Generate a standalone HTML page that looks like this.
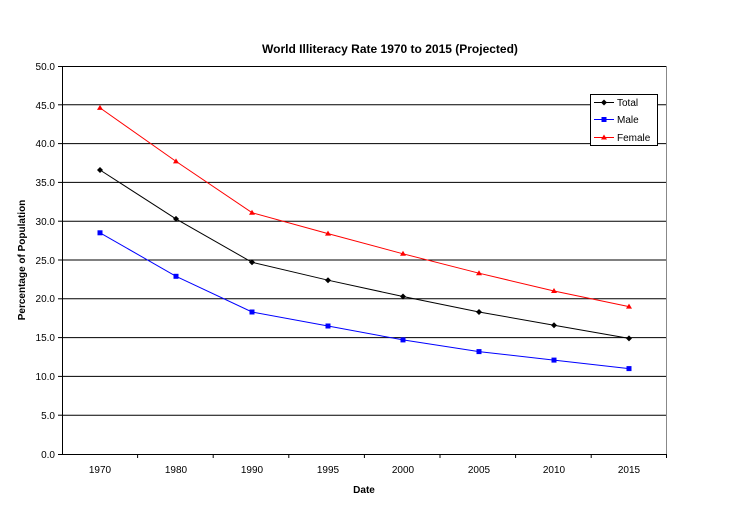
<!DOCTYPE html>
<html><head><meta charset="utf-8"><style>body{margin:0;background:#fff}svg{display:block;font-family:"Liberation Sans",Arial,sans-serif}</style></head>
<body>
<svg width="752" height="512" viewBox="0 0 752 512" xmlns="http://www.w3.org/2000/svg">
<rect width="752" height="512" fill="#fff"/>
<text x="390" y="53" font-size="12" font-weight="bold" text-anchor="middle">World Illiteracy Rate 1970 to 2015 (Projected)</text>
<g stroke="#000" stroke-width="1">
<line x1="62" y1="66.5" x2="667" y2="66.5"/><line x1="62" y1="104.8" x2="667" y2="104.8"/><line x1="62" y1="143.6" x2="667" y2="143.6"/><line x1="62" y1="182.4" x2="667" y2="182.4"/><line x1="62" y1="221.2" x2="667" y2="221.2"/><line x1="62" y1="260" x2="667" y2="260"/><line x1="62" y1="298.8" x2="667" y2="298.8"/><line x1="62" y1="337.6" x2="667" y2="337.6"/><line x1="62" y1="376.4" x2="667" y2="376.4"/><line x1="62" y1="415.2" x2="667" y2="415.2"/>
<line x1="62.5" y1="66" x2="62.5" y2="454"/><line x1="62" y1="454.5" x2="667" y2="454.5"/>
<line x1="666.5" y1="66" x2="666.5" y2="454" stroke="#888"/>
<g>
<line x1="58" y1="66.5" x2="62" y2="66.5"/><line x1="58" y1="104.8" x2="62" y2="104.8"/><line x1="58" y1="143.6" x2="62" y2="143.6"/><line x1="58" y1="182.4" x2="62" y2="182.4"/><line x1="58" y1="221.2" x2="62" y2="221.2"/><line x1="58" y1="260" x2="62" y2="260"/><line x1="58" y1="298.8" x2="62" y2="298.8"/><line x1="58" y1="337.6" x2="62" y2="337.6"/><line x1="58" y1="376.4" x2="62" y2="376.4"/><line x1="58" y1="415.2" x2="62" y2="415.2"/><line x1="58" y1="454.5" x2="62" y2="454.5"/>
<line x1="137.6" y1="454" x2="137.6" y2="458"/><line x1="213.2" y1="454" x2="213.2" y2="458"/><line x1="288.8" y1="454" x2="288.8" y2="458"/><line x1="364.4" y1="454" x2="364.4" y2="458"/><line x1="440" y1="454" x2="440" y2="458"/><line x1="515.6" y1="454" x2="515.6" y2="458"/><line x1="591.2" y1="454" x2="591.2" y2="458"/><line x1="666.5" y1="454" x2="666.5" y2="458"/>
</g></g>
<g font-size="10" text-anchor="end">
<text x="55" y="70">50.0</text><text x="55" y="109">45.0</text><text x="55" y="147">40.0</text><text x="55" y="186">35.0</text><text x="55" y="225">30.0</text><text x="55" y="264">25.0</text><text x="55" y="302">20.0</text><text x="55" y="341">15.0</text><text x="55" y="380">10.0</text><text x="55" y="419">5.0</text><text x="55" y="458">0.0</text>
</g>
<g font-size="10" text-anchor="middle">
<text x="100" y="473">1970</text><text x="176" y="473">1980</text><text x="252" y="473">1990</text><text x="328" y="473">1995</text><text x="403" y="473">2000</text><text x="479" y="473">2005</text><text x="554" y="473">2010</text><text x="629" y="473">2015</text>
</g>
<text x="364" y="493" font-size="10" font-weight="bold" text-anchor="middle">Date</text>
<text transform="translate(25,260) rotate(-90)" font-size="10" font-weight="bold" text-anchor="middle">Percentage of Population</text>
<polyline fill="none" stroke="#000" points="100,170 176,218.9 252,262.3 328,280.2 403,296.5 479,312 554,325.2 629,338.4"/>
<polyline fill="none" stroke="#0000ff" points="100,232.8 176,276.3 252,312 328,326 403,339.9 479,351.6 554,360.1 629,368.6"/>
<polyline fill="none" stroke="#ff0000" points="100,107.9 176,161.4 252,212.7 328,233.6 403,253.8 479,273.2 554,291 629,306.6"/>
<g fill="#000">
<path d="M100,167 l3,3 l-3,3 l-3,-3z"/><path d="M176,215.9 l3,3 l-3,3 l-3,-3z"/><path d="M252,259.3 l3,3 l-3,3 l-3,-3z"/><path d="M328,277.2 l3,3 l-3,3 l-3,-3z"/><path d="M403,293.5 l3,3 l-3,3 l-3,-3z"/><path d="M479,309 l3,3 l-3,3 l-3,-3z"/><path d="M554,322.2 l3,3 l-3,3 l-3,-3z"/><path d="M629,335.4 l3,3 l-3,3 l-3,-3z"/>
</g>
<g fill="#0000ff">
<rect x="97.5" y="230.3" width="5" height="5"/><rect x="173.5" y="273.8" width="5" height="5"/><rect x="249.5" y="309.5" width="5" height="5"/><rect x="325.5" y="323.5" width="5" height="5"/><rect x="400.5" y="337.4" width="5" height="5"/><rect x="476.5" y="349.1" width="5" height="5"/><rect x="551.5" y="357.6" width="5" height="5"/><rect x="626.5" y="366.1" width="5" height="5"/>
</g>
<g fill="#ff0000">
<path d="M100,104.9 l3,5 h-6z"/><path d="M176,158.4 l3,5 h-6z"/><path d="M252,209.7 l3,5 h-6z"/><path d="M328,230.6 l3,5 h-6z"/><path d="M403,250.8 l3,5 h-6z"/><path d="M479,270.2 l3,5 h-6z"/><path d="M554,288 l3,5 h-6z"/><path d="M629,303.6 l3,5 h-6z"/>
</g>
<rect x="590.5" y="94.5" width="67" height="51" fill="#fff" stroke="#000"/>
<line x1="594" y1="102.5" x2="614" y2="102.5" stroke="#000"/><path d="M604,99.5 l3,3 l-3,3 l-3,-3z" fill="#000"/>
<line x1="594" y1="119.5" x2="614" y2="119.5" stroke="#0000ff"/><rect x="601.5" y="117" width="5" height="5" fill="#0000ff"/>
<line x1="594" y1="137.5" x2="614" y2="137.5" stroke="#ff0000"/><path d="M604,134.5 l3,5 h-6z" fill="#ff0000"/>
<g font-size="10"><text x="617" y="106">Total</text><text x="617" y="123">Male</text><text x="617" y="141">Female</text></g>
</svg>
</body></html>
